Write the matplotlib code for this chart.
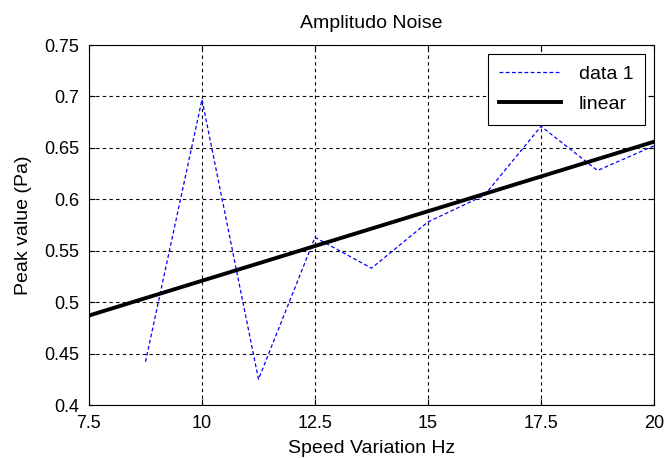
import numpy as np
import matplotlib
matplotlib.use("Agg")
import matplotlib.pyplot as plt

# data
speed = [8.75, 10, 11.25, 12.5, 13.75, 15, 16.25, 17.5, 18.75, 20]
peak = [0.442, 0.697, 0.425, 0.563, 0.533, 0.578, 0.604, 0.671, 0.628, 0.652]
fit_x = [7.5, 20]
fit_y = [0.487, 0.656]

xticks = [7.5, 10, 12.5, 15, 17.5, 20]
xlabels = ["7.5", "10", "12.5", "15", "17.5", "20"]
yticks = [0.4, 0.45, 0.5, 0.55, 0.6, 0.65, 0.7, 0.75]
ylabels = ["0.4", "0.45", "0.5", "0.55", "0.6", "0.65", "0.7", "0.75"]

plt.rcParams['font.family'] = ['Liberation Sans', 'DejaVu Sans']

fig = plt.figure(figsize=(6.65, 4.58), dpi=100)
ax = fig.add_axes([0.1338, 0.1157, 0.8497, 0.786])

ax.plot(speed, peak, color='#0000ff', linestyle='--', dashes=(3, 2), lw=0.9, label='data 1')
ax.plot(fit_x, fit_y, color='black', lw=2.8, label='linear')

ax.set_xlim(7.5, 20)
ax.set_ylim(0.4, 0.75)
ax.set_xticks(xticks)
ax.set_xticklabels(xlabels)
ax.set_yticks(yticks)
ax.set_yticklabels(ylabels)
ax.tick_params(direction='in', top=True, right=True, labelsize=13, length=4, pad=7)
ax.grid(True, color='black', linestyle=(0, (3, 3)), lw=0.8)
for s in ax.spines.values():
    s.set_linewidth(0.8)

ax.set_title('Amplitudo Noise', fontsize=14, pad=12)
ax.set_xlabel('Speed Variation Hz', fontsize=14, labelpad=6)
ax.set_ylabel('Peak value (Pa)', fontsize=14, labelpad=9)

leg = ax.legend(loc='upper right', fontsize=14, handlelength=3.2, handletextpad=0.9,
                labelspacing=0.65, borderpad=0.6, fancybox=False,
                framealpha=1, edgecolor='black', borderaxespad=0.45)
leg.get_frame().set_linewidth(0.8)

fig.savefig('out.png', dpi=100)
